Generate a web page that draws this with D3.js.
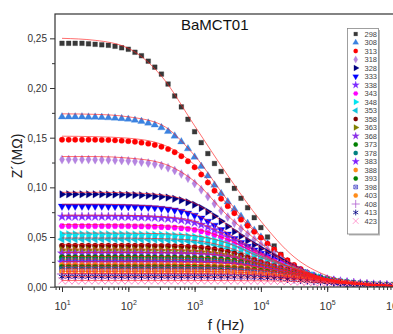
<!DOCTYPE html>
<html>
<head>
<meta charset="utf-8">
<script src="https://cdn.jsdelivr.net/npm/d3@7"></script>
<style>
  body { margin: 0; background: #fff; }
  svg { display: block; font-family: "Liberation Sans", Arial, sans-serif; }
</style>
</head>
<body>
<svg id="chart" width="393" height="334"></svg>
<script>
// temperatures (K) shown in the legend
const temps = [298, 308, 313, 318, 328, 333, 338, 343, 348, 353, 358, 363, 368, 373, 378, 383, 388, 393, 398, 403, 408, 413, 423];

// measured frequencies (Hz), 10 points per decade
const freqs = [10, 12.6, 15.8, 20, 25.1, 31.6, 39.8, 50.1, 63.1, 79.4,
  100, 126, 158, 200, 251, 316, 398, 501, 631, 794,
  1000, 1259, 1585, 1995, 2512, 3162, 3981, 5012, 6310, 7943,
  1e4, 12590, 15850, 19950, 25120, 31620, 39810, 50120, 63100, 79430,
  1e5, 125900, 158500, 199500, 251200, 316200, 398100, 501200, 631000, 794300, 1e6];

// Z' data in kOhm, one array per temperature
const z298 = [245,245,245,245,244.5,244,243.5,243,242,240.5, 239,236,232.5,227,221,214,204,192,181,168.5, 156,145,134,124,116,107,99,89,79.5,69.5, 59.5,50,41,32.5,26,20.5,16,13,10.5,8.5, 7,6,5,4.3,3.7,3.2,2.8,2.4,2.1,1.8,1.6];
const z308 = [171,171,171,171,170.8,170.7,170.5,170.1,169.8,169.3, 168.6,167.6,166.4,164.8,162.8,160.1,156.3,151.7,145.9,138.9, 130.5,121.2,111.7,102.3,93.7,85.5,78,70.8,63.8,56.9, 50.1,43.4,36.9,30.8,25.3,20.5,16.4,13.2,10.4,8.4, 6.7,5.5,4.4,3.6,2.9,2.4,2.1,1.7,1.5,1.2,1.1];
const z313 = [148,148,148,148,148,147.9,147.7,147.6,147.3,147, 146.5,145.9,145,144,142.7,140.9,138.5,135.3,131.3,126.2, 120.2,112.9,104.9,96.6,88.5,81.1,74,67.5,61.3,55.2, 49.3,43.4,37.6,32,26.6,21.9,17.8,14.2,11.4,9, 7.3,5.8,4.7,3.8,3.1,2.5,2.1,1.8,1.5,1.3,1.1];
const z318 = [128,128,128,128,128,127.9,127.7,127.6,127.4,127.1, 126.7,126.2,125.4,124.5,123.4,121.9,119.8,117,113.5,109.2, 103.9,97.7,90.8,83.6,76.5,70.1,64,58.4,53,47.7, 42.6,37.5,32.5,27.6,23,18.9,15.4,12.3,9.9,7.8, 6.3,5,4.1,3.3,2.7,2.2,1.8,1.5,1.3,1.1,1];
const z328 = [93,93,93,93,93,93,93,92.9,92.8,92.7, 92.5,92.3,92.1,91.7,91.1,90.5,89.7,88.5,87,85, 82.5,79.3,75.5,71,65.9,60.7,55.6,51,46.5,42.4, 38.5,34.7,31,27.2,23.6,20.1,16.7,13.8,11.2,8.9, 7.2,5.7,4.6,3.6,3,2.4,2,1.6,1.3,1.1,0.9];
const z333 = [81,81,81,81,81,81,81,80.9,80.8,80.8, 80.6,80.4,80.2,79.9,79.4,78.8,78.1,77.1,75.8,74, 71.8,69.1,65.8,61.8,57.4,52.9,48.4,44.4,40.5,36.9, 33.5,30.2,27,23.7,20.6,17.5,14.6,12,9.7,7.8, 6.2,4.9,4,3.2,2.6,2.1,1.7,1.4,1.1,1,0.8];
const z338 = [70.5,70.5,70.5,70.5,70.5,70.5,70.5,70.5,70.4,70.4, 70.3,70.1,70,69.8,69.5,69.1,68.6,68,67.1,66, 64.4,62.5,60.1,57.2,53.8,50,46,42.2,38.6,35.3, 32.1,29.2,26.3,23.5,20.7,17.9,15.2,12.7,10.4,8.5, 6.8,5.4,4.3,3.5,2.7,2.3,1.8,1.5,1.2,1,0.8];
const z343 = [61,61,61,61,61,61,61,61,61,60.9, 60.9,60.8,60.7,60.6,60.4,60.1,59.8,59.4,58.8,58.1, 57.1,55.8,54.1,52,49.5,46.5,43.2,39.8,36.5,33.4, 30.5,27.8,25.3,22.8,20.3,17.9,15.5,13.2,11,9, 7.3,5.9,4.7,3.7,3,2.4,2,1.6,1.3,1,0.9];
const z348 = [52.7,52.7,52.7,52.7,52.7,52.7,52.7,52.7,52.7,52.7, 52.6,52.6,52.5,52.4,52.3,52.2,52,51.6,51.3,50.8, 50.2,49.3,48.2,46.7,45,42.8,40.2,37.4,34.4,31.5, 28.9,26.4,24,21.8,19.7,17.5,15.4,13.4,11.4,9.5, 7.8,6.3,5.1,4.1,3.2,2.6,2.1,1.7,1.4,1.1,0.9];
const z353 = [47.7,47.7,47.7,47.7,47.7,47.7,47.7,47.7,47.7,47.7, 47.7,47.6,47.6,47.5,47.4,47.2,47,46.7,46.4,46, 45.4,44.6,43.6,42.3,40.7,38.7,36.4,33.8,31.1,28.5, 26.1,23.9,21.8,19.7,17.8,15.9,14,12.1,10.3,8.6, 7.1,5.7,4.6,3.7,2.9,2.3,1.9,1.5,1.2,1,0.8];
const z358 = [41.3,41.3,41.3,41.3,41.3,41.3,41.3,41.3,41.3,41.3, 41.3,41.3,41.2,41.2,41.1,41,40.9,40.7,40.5,40.2, 39.8,39.3,38.7,37.7,36.6,35.2,33.5,31.5,29.3,27, 24.7,22.6,20.7,18.8,17.1,15.4,13.8,12.1,10.5,8.9, 7.4,6.1,5,4,3.2,2.5,2,1.6,1.3,1.1,0.9];
const z363 = [37,37,37,37,37,37,37,37,37,37, 37,37,36.9,36.9,36.8,36.7,36.6,36.5,36.3,36, 35.7,35.2,34.6,33.8,32.8,31.6,30,28.2,26.2,24.2, 22.1,20.3,18.5,16.9,15.3,13.8,12.3,10.8,9.4,8, 6.7,5.5,4.4,3.6,2.8,2.3,1.8,1.4,1.2,1,0.8];
const z368 = [33.6,33.6,33.6,33.6,33.6,33.6,33.6,33.6,33.6,33.6, 33.6,33.6,33.6,33.5,33.5,33.4,33.4,33.3,33.1,32.9, 32.7,32.4,32,31.4,30.7,29.8,28.7,27.3,25.6,23.8, 21.9,20.1,18.4,16.8,15.3,13.9,12.5,11.2,9.8,8.5, 7.3,6,5,4,3.2,2.6,2,1.6,1.3,1.1,0.9];
const z373 = [29.6,29.6,29.6,29.6,29.6,29.6,29.6,29.6,29.6,29.6, 29.6,29.6,29.6,29.6,29.5,29.5,29.5,29.4,29.3,29.2, 29,28.8,28.5,28.2,27.7,27.1,26.3,25.2,24,22.6, 21,19.3,17.7,16.2,14.8,13.5,12.3,11,9.9,8.7, 7.5,6.4,5.3,4.4,3.6,2.8,2.3,1.8,1.4,1.2,0.9];
const z378 = [27,27,27,27,27,27,27,27,27,27, 27,27,27,27,26.9,26.9,26.9,26.8,26.7,26.6, 26.5,26.3,26,25.7,25.3,24.7,23.9,23,21.9,20.6, 19.1,17.6,16.1,14.8,13.5,12.3,11.2,10.1,9,7.9, 6.9,5.8,4.9,4,3.2,2.6,2.1,1.6,1.3,1.1,0.9];
const z383 = [24.5,24.5,24.5,24.5,24.5,24.5,24.5,24.5,24.5,24.5, 24.5,24.5,24.5,24.5,24.5,24.5,24.4,24.4,24.3,24.3, 24.2,24,23.8,23.6,23.3,22.9,22.4,21.7,20.9,19.9, 18.7,17.4,16,14.7,13.4,12.3,11.2,10.1,9.1,8.2, 7.2,6.2,5.3,4.4,3.6,2.9,2.4,1.9,1.5,1.2,1];
const z388 = [22,22,22,22,22,22,22,22,22,22, 22,22,22,22,22,22,21.9,21.9,21.8,21.8, 21.7,21.6,21.4,21.2,20.9,20.6,20.1,19.5,18.8,17.9, 16.8,15.6,14.4,13.2,12.1,11,10,9.1,8.2,7.3, 6.4,5.6,4.8,4,3.3,2.6,2.1,1.7,1.3,1.1,0.9];
const z393 = [20,20,20,20,20,20,20,20,20,20, 20,20,20,20,20,20,20,19.9,19.9,19.9, 19.8,19.7,19.6,19.5,19.3,19,18.7,18.3,17.7,17.1, 16.2,15.3,14.2,13.1,12,11,10,9.1,8.3,7.5, 6.7,5.9,5.1,4.3,3.6,3,2.4,1.9,1.5,1.2,1];
const z398 = [17.5,17.5,17.5,17.5,17.5,17.5,17.5,17.5,17.5,17.5, 17.5,17.5,17.5,17.5,17.5,17.5,17.5,17.4,17.4,17.4, 17.3,17.3,17.2,17,16.9,16.7,16.4,16,15.5,14.9, 14.2,13.4,12.4,11.4,10.5,9.6,8.8,8,7.2,6.5, 5.8,5.1,4.4,3.8,3.2,2.6,2.1,1.7,1.3,1.1,0.9];
const z403 = [15,15,15,15,15,15,15,15,15,15, 15,15,15,15,15,15,15,15,15,14.9, 14.9,14.9,14.8,14.7,14.6,14.5,14.3,14,13.7,13.3, 12.8,12.2,11.4,10.6,9.8,9,8.2,7.5,6.8,6.2, 5.6,5,4.4,3.8,3.2,2.7,2.2,1.8,1.5,1.2,0.9];
const z408 = [12.8,12.8,12.8,12.8,12.8,12.8,12.8,12.8,12.8,12.8, 12.8,12.8,12.8,12.8,12.8,12.8,12.8,12.8,12.8,12.8, 12.7,12.7,12.7,12.6,12.5,12.5,12.3,12.2,12,11.7, 11.4,10.9,10.4,9.8,9.1,8.4,7.7,7,6.4,5.8, 5.3,4.8,4.3,3.8,3.3,2.8,2.3,1.9,1.5,1.2,1];
const z413 = [10,10,10,10,10,10,10,10,10,10, 10,10,10,10,10,10,10,10,10,10, 10,10,9.9,9.9,9.9,9.8,9.7,9.6,9.5,9.4, 9.1,8.9,8.5,8.1,7.6,7.1,6.5,6,5.5,5, 4.6,4.1,3.7,3.3,2.9,2.5,2.2,1.8,1.5,1.2,1];
const z423 = [6,6,6,6,6,6,6,6,6,6, 6,6,6,6,6,6,6,6,6,6, 6,6,6,6,6,6,5.9,5.9,5.9,5.8, 5.8,5.7,5.6,5.5,5.3,5.1,4.9,4.6,4.3,3.9, 3.6,3.3,3,2.7,2.5,2.2,2,1.8,1.5,1.3,1.1];

// fitted curves (kOhm), sampled every half decade
const fitFreqs = [10, 31.6, 100, 316, 1000, 3162, 1e4, 31620, 1e5, 316200, 1e6];
const fits = [
  [250, 248, 240, 212, 162, 112, 66, 30, 11, 4, 1.5],
  [174, 173.5, 171, 163, 132, 87, 51, 21, 7, 2.5, 1.1],
  [151.5, 151, 149.5, 143.5, 122.5, 82.5, 50, 22.3, 7.5, 2.6, 1.1],
  [131, 131, 129.5, 124.5, 106, 71.5, 43.5, 19.3, 6.4, 2.3, 1],
  [95, 95, 94.5, 92.5, 84, 62, 39.3, 20.5, 7.3, 2.5, 0.9],
  [83, 83, 82.4, 80.5, 73.3, 54, 34.2, 17.9, 6.3, 2.2, 0.8],
  [72, 72, 71.8, 70.6, 65.8, 51, 32.8, 18.3, 6.9, 2.3, 0.8],
  [62.5, 62.5, 62.3, 61.5, 58.4, 47.5, 31.2, 18.3, 7.5, 2.4, 0.9],
  [54, 54, 53.9, 53.4, 51.4, 43.8, 29.6, 17.9, 8, 2.7, 0.9],
  [49, 49, 48.9, 48.4, 46.6, 39.7, 26.7, 16.3, 7.3, 2.4, 0.8],
  [42.4, 42.4, 42.4, 42.1, 40.8, 36.1, 25.4, 15.8, 7.6, 2.6, 0.9],
  [38, 38, 38, 37.7, 36.7, 32.4, 22.7, 14.2, 6.9, 2.4, 0.8],
  [34.5, 34.5, 34.5, 34.3, 33.6, 30.6, 22.5, 14.3, 7.5, 2.7, 0.9],
  [30.4, 30.4, 30.4, 30.3, 29.8, 27.8, 21.6, 13.9, 7.7, 2.9, 0.9],
  [27.8, 27.8, 27.8, 27.7, 27.2, 25.4, 19.6, 12.6, 7.1, 2.7, 0.9],
  [25.2, 25.2, 25.2, 25.2, 24.9, 23.6, 19.2, 12.6, 7.4, 3, 1],
  [22.6, 22.6, 22.6, 22.6, 22.3, 21.2, 17.3, 11.3, 6.6, 2.7, 0.9],
  [20.6, 20.6, 20.6, 20.6, 20.4, 19.6, 16.7, 11.3, 6.9, 3.1, 1],
  [18, 18, 18, 18, 17.8, 17.2, 14.6, 9.9, 6, 2.7, 0.9],
  [15.5, 15.5, 15.5, 15.5, 15.4, 15, 13.2, 9.3, 5.8, 2.8, 0.9],
  [13.2, 13.2, 13.2, 13.2, 13.1, 12.9, 11.7, 8.6, 5.5, 2.9, 1],
  [10.3, 10.3, 10.3, 10.3, 10.3, 10.1, 9.4, 7.3, 4.7, 2.6, 1],
  [6.2, 6.2, 6.2, 6.2, 6.2, 6.2, 6, 5.3, 3.7, 2.3, 1.1]
];

const series = [z298, z308, z313, z318, z328, z333, z338, z343, z348, z353, z358, z363,
  z368, z373, z378, z383, z388, z393, z398, z403, z408, z413, z423];

const shapes = ["square", "triUp", "circle", "diamond", "triRight", "triDown", "star", "hexagon",
  "triRight", "triLeft", "circle", "triRight", "star", "circle", "circle", "star", "circle",
  "circle", "boxX", "circle", "plus", "asterisk", "times"];
const colors = ["#383838", "#3b82e0", "#ff0000", "#b584e0", "#000080", "#0000ff", "#7d2cff", "#ff00ff",
  "#00e5f0", "#10c4dc", "#800000", "#808000", "#8a30e8", "#008000", "#008080", "#8020ff", "#ff8c1a",
  "#008000", "#4a4ac8", "#ff8c1a", "#b060d0", "#000080", "#ff88c8"];

const yTicks = [0, 0.05, 0.10, 0.15, 0.20, 0.25];
const xTicks = [10, 100, 1000, 1e4, 1e5, 1e6];

const svg = d3.select("#chart");
const L = 55, T = 14, R = 398, B = 287;

const x = d3.scaleLog().domain([7.84, 1.17e6]).range([L, R]);
const y = d3.scaleLinear().domain([0, 0.2745]).range([286.7, T]);

// hexagon symbol
const symbolHex = {
  draw(ctx, size) {
    const r = Math.sqrt(size / 2.598);
    for (let i = 0; i < 6; i++) {
      const a = Math.PI / 3 * i;
      if (i === 0) ctx.moveTo(r * Math.cos(a), r * Math.sin(a));
      else ctx.lineTo(r * Math.cos(a), r * Math.sin(a));
    }
    ctx.closePath();
  }
};
// square with an x inside
const symbolBoxX = {
  draw(ctx, size) {
    const h = Math.sqrt(size) / 2;
    ctx.moveTo(-h, -h); ctx.lineTo(h, -h); ctx.lineTo(h, h); ctx.lineTo(-h, h); ctx.closePath();
    ctx.moveTo(-h, -h); ctx.lineTo(h, h);
    ctx.moveTo(h, -h); ctx.lineTo(-h, h);
  }
};

function marker(shape, s) {
  // returns [path, rotation, filled]
  switch (shape) {
    case "square": return [d3.symbol(d3.symbolSquare, 22 * s)(), 0, true];
    case "triUp": return [d3.symbol(d3.symbolTriangle, 24 * s)(), 0, true];
    case "triDown": return [d3.symbol(d3.symbolTriangle, 24 * s)(), 180, true];
    case "triRight": return [d3.symbol(d3.symbolTriangle, 24 * s)(), 90, true];
    case "triLeft": return [d3.symbol(d3.symbolTriangle, 24 * s)(), -90, true];
    case "circle": return [d3.symbol(d3.symbolCircle, 23 * s)(), 0, true];
    case "diamond": return [d3.symbol(d3.symbolDiamond, 24 * s)(), 0, true];
    case "star": return [d3.symbol(d3.symbolStar, 26 * s)(), 0, true];
    case "hexagon": return [d3.symbol(symbolHex, 24 * s)(), 0, true];
    case "boxX": return [d3.symbol(symbolBoxX, 21 * s)(), 0, false];
    case "plus": return [d3.symbol(d3.symbolPlus, 36 * s)(), 0, false];
    case "asterisk": return [d3.symbol(d3.symbolAsterisk, 36 * s)(), 0, false];
    case "times": return [d3.symbol(d3.symbolTimes, 36 * s)(), 0, false];
  }
}

svg.append("defs").append("clipPath").attr("id", "plotclip")
  .append("rect").attr("x", L).attr("y", T).attr("width", R - L).attr("height", B - T);

const plot = svg.append("g").attr("clip-path", "url(#plotclip)");

// data markers
series.forEach((vals, i) => {
  const [p, rot, filled] = marker(shapes[i], 1);
  plot.append("g").selectAll("path")
    .data(vals.map((v, k) => ({ f: freqs[k], z: v / 1000 })))
    .join("path")
    .attr("d", p)
    .attr("transform", d => `translate(${x(d.f)},${y(d.z)}) rotate(${rot})`)
    .attr("fill", filled ? colors[i] : "none")
    .attr("stroke", colors[i])
    .attr("stroke-width", filled ? 0.3 : 1);
});

// fitted curves on top
const fitLine = d3.line()
  .x((d, k) => x(fitFreqs[k]))
  .y(d => y(d / 1000))
  .curve(d3.curveMonotoneX);
plot.append("g").selectAll("path")
  .data(fits)
  .join("path")
  .attr("d", fitLine)
  .attr("fill", "none")
  .attr("stroke", "#ff1a1a")
  .attr("stroke-opacity", 0.7)
  .attr("stroke-width", 0.9);

// frame
svg.append("rect").attr("x", L).attr("y", T).attr("width", R - L).attr("height", B - T)
  .attr("fill", "none").attr("stroke", "#333").attr("stroke-width", 1.2);

// y axis
const yAxis = svg.append("g").attr("transform", `translate(${L},0)`)
  .call(d3.axisLeft(y).tickValues(yTicks).tickSize(5).tickSizeOuter(0)
    .tickFormat(d => d3.format(".2f")(d).replace(".", ",")));
svg.append("g").attr("transform", `translate(${L},0)`)
  .call(d3.axisLeft(y).tickValues([0.025, 0.075, 0.125, 0.175, 0.225]).tickSize(3).tickFormat(""))
  .call(g => g.select(".domain").remove());
yAxis.select(".domain").remove();
yAxis.selectAll("text").attr("font-size", 10).attr("fill", "#333").attr("x", -8).attr("dy", "0.34em")
  .attr("font-family", "Liberation Sans, Arial, sans-serif");

// x axis
const minor = [];
[1, 10, 100, 1000, 1e4, 1e5].forEach(d => {
  for (let m = 1; m <= 9; m++) if (d * m >= 8) minor.push(d * m);
});
svg.append("g").attr("transform", `translate(0,${B})`)
  .call(d3.axisBottom(x).tickValues(minor).tickSize(3).tickFormat(""))
  .call(g => g.select(".domain").remove());
const xAxis = svg.append("g").attr("transform", `translate(0,${B})`)
  .call(d3.axisBottom(x).tickValues(xTicks).tickSize(5).tickSizeOuter(0).tickFormat(""));
xAxis.select(".domain").remove();
xAxis.selectAll(".tick").append("text")
  .attr("fill", "#333").attr("y", 23).attr("text-anchor", "middle")
  .attr("font-family", "Liberation Sans, Arial, sans-serif")
  .each(function (d) {
    const t = d3.select(this);
    t.append("tspan").attr("font-size", 11).text("10");
    t.append("tspan").attr("font-size", 7).attr("dy", -5).text(Math.round(Math.log10(d)));
  });
svg.selectAll(".tick line").attr("stroke", "#333");

// axis titles
svg.append("text").attr("transform", "translate(22,156) rotate(-90)")
  .attr("text-anchor", "middle").attr("font-size", 14).attr("fill", "#222")
  .text("Z´(MΩ)");
svg.append("text").attr("x", 226).attr("y", 330)
  .attr("text-anchor", "middle").attr("font-size", 15).attr("fill", "#222")
  .text("f (Hz)");

// title
svg.append("text").attr("x", 181).attr("y", 30)
  .attr("font-size", 15).attr("fill", "#111").text("BaMCT01");

// legend
const lg = svg.append("g");
lg.append("rect").attr("x", 349).attr("y", 30).attr("width", 31).attr("height", 205.5).attr("fill", "#b8b8b8");
lg.append("rect").attr("x", 347.5).attr("y", 28.5).attr("width", 31).attr("height", 205.5)
  .attr("fill", "#fff").attr("stroke", "#888").attr("stroke-width", 0.8);
temps.forEach((t, i) => {
  const cy = 34 + i * 8.5;
  const [p, rot, filled] = marker(shapes[i], 0.65);
  lg.append("path").attr("d", p)
    .attr("transform", `translate(355.7,${cy}) rotate(${rot})`)
    .attr("fill", filled ? colors[i] : "none")
    .attr("stroke", colors[i]).attr("stroke-width", filled ? 0.2 : 0.8);
  lg.append("text").attr("x", 364.5).attr("y", cy + 2.6)
    .attr("font-size", 7.5).attr("fill", "#444")
    .attr("textLength", 12.5).attr("lengthAdjust", "spacingAndGlyphs").text(t);
});
</script>
</body>
</html>
